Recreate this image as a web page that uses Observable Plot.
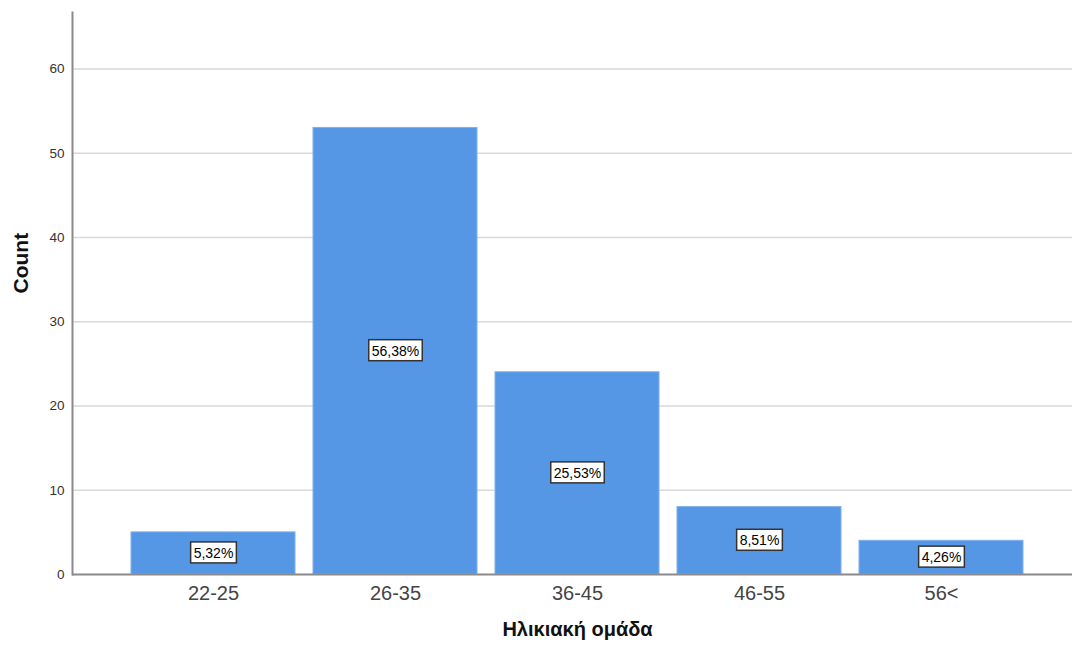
<!DOCTYPE html>
<html>
<head>
<meta charset="utf-8">
<script src="https://cdn.jsdelivr.net/npm/d3@7"></script>
<script src="https://cdn.jsdelivr.net/npm/@observablehq/plot@0.6"></script>
<style>
  html, body { margin: 0; padding: 0; background: #fff; }
  #chart svg { display: block; }
</style>
</head>
<body>
<div id="chart"></div>
<script>
const categories = ["22-25", "26-35", "36-45", "46-55", "56<"];
const counts = [5, 53, 24, 8, 4];
const percents = ["5,32%", "56,38%", "25,53%", "8,51%", "4,26%"];
const yTicks = [0, 10, 20, 30, 40, 50, 60];

const data = categories.map((c, i) => ({ group: c, count: counts[i], pct: percents[i] }));

const chart = Plot.plot({
  width: 1072,
  height: 648,
  marginLeft: 72,
  marginRight: 0,
  marginTop: 12,
  marginBottom: 74,
  style: { fontFamily: "Arial, 'Liberation Sans', sans-serif", background: "#fff" },
  x: { domain: categories, range: [122, 1032], paddingInner: 0.1, paddingOuter: 0.05 },
  y: { domain: [0, 66.7] },
  marks: [
    Plot.gridY(yTicks.filter(d => d > 0), { stroke: "#d9d9d9", strokeOpacity: 1, strokeWidth: 1.5 }),
    Plot.barY(data, { x: "group", y: "count", fill: "#5596e5", stroke: "#7fb0ee", strokeWidth: 1, inset: 0 }),
    Plot.ruleY([0], { stroke: "#8a8a8a", strokeWidth: 2 }),
    Plot.frame({ anchor: "left", stroke: "#8a8a8a", strokeWidth: 2 }),
    Plot.axisY({ ticks: yTicks, tickSize: 0, tickPadding: 8, fontSize: 13.5, tickFormat: d => String(d), label: null, color: "#333" }),
    Plot.axisX({ tickSize: 0, tickPadding: 11, fontSize: 20, label: null, color: "#444" }),
    Plot.text(data, { x: "group", y: d => d.count / 2, text: "pct", fontSize: 14, fill: "#000", className: "pctlabel" }),
    Plot.text(["Count"], { frameAnchor: "left", rotate: -90, dx: -51, fontSize: 21, fontWeight: "bold", fill: "#111" }),
    Plot.text(["Ηλικιακή ομάδα"], { frameAnchor: "bottom", dx: 5, dy: 61, fontSize: 20, fontWeight: "bold", fill: "#111" })
  ]
});
document.getElementById("chart").appendChild(chart);

// draw boxes behind the percentage labels
const ns = "http://www.w3.org/2000/svg";
chart.querySelectorAll("g.pctlabel text").forEach(t => {
  const b = t.getBBox();
  const r = document.createElementNS(ns, "rect");
  r.setAttribute("x", b.x - 3);
  r.setAttribute("y", b.y - 3);
  r.setAttribute("width", b.width + 6);
  r.setAttribute("height", b.height + 5);
  r.setAttribute("fill", "#fff");
  r.setAttribute("stroke", "#333");
  r.setAttribute("stroke-width", 1.5);
  const tr = t.getAttribute("transform");
  if (tr) r.setAttribute("transform", tr);
  t.parentNode.insertBefore(r, t);
});
</script>
</body>
</html>
